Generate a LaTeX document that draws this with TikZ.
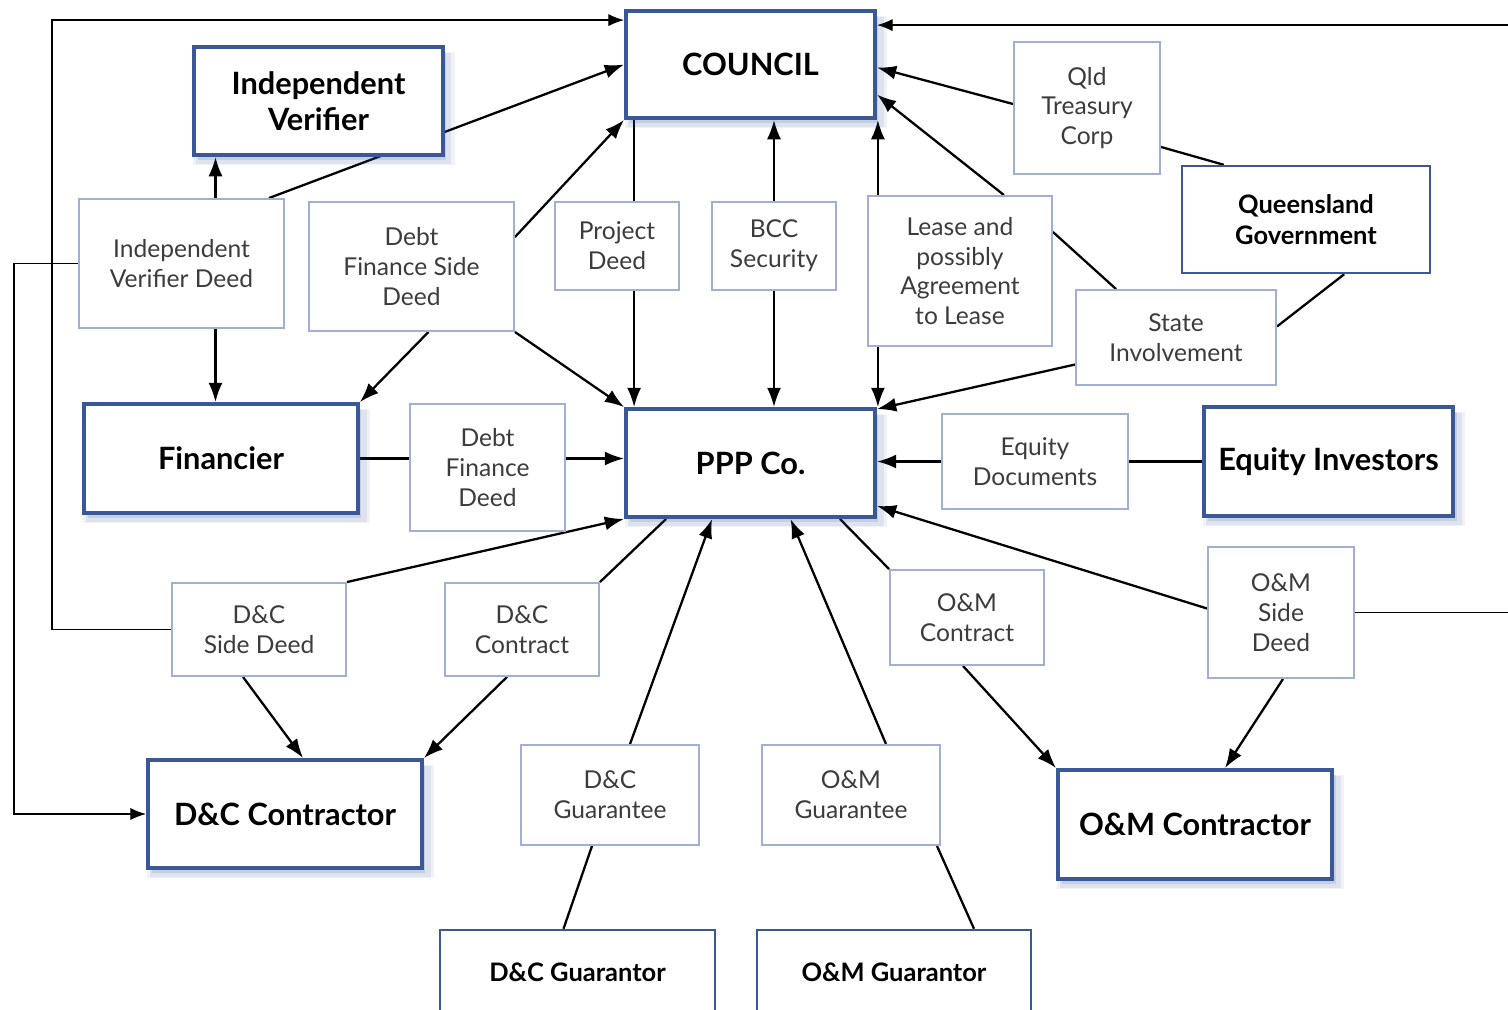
\documentclass[tikz,border=0pt]{standalone}
\usepackage{fontspec}
\setmainfont{Lato}
\usepackage{tikz}
\usetikzlibrary{calc}
\usetikzlibrary{arrows.meta}
\usetikzlibrary{shadows}
\usetikzlibrary{backgrounds}

\definecolor{azulcaja}{RGB}{58,88,152}
\definecolor{azulclaro}{RGB}{160,176,212}
\definecolor{textogris}{RGB}{60,60,60}

\tikzset{
  sombra/.style={
    general shadow={shadow xshift=3pt, shadow yshift=-4pt, shadow scale=1.05, fill=azulcaja, opacity=0.08},
    general shadow={shadow xshift=3pt, shadow yshift=-4pt, shadow scale=1.025, fill=azulcaja, opacity=0.1},
    general shadow={shadow xshift=2pt, shadow yshift=-3pt, fill=azulcaja, opacity=0.14}},
  parte/.style={draw=azulcaja, line width=2.2pt, fill=white, align=center, sombra,
    font=\bfseries\fontsize{17.5}{20.5}\selectfont},
  garante/.style={draw=azulcaja, line width=1.4pt, fill=white, align=center,
    font=\bfseries\fontsize{14.5}{18}\selectfont},
  documento/.style={draw=azulclaro, line width=1.1pt, fill=white, align=center,
    text=textogris, font=\fontsize{14}{17}\selectfont},
  flecha/.style={line width=1.3pt, -{Latex[length=11pt, width=8pt]}},
  linea/.style={line width=1.3pt},
  borde/.style={line width=0.8pt, -{Latex[length=9pt, width=7pt]}},
}

\begin{document}
\begin{tikzpicture}[x=0.02cm, y=-0.02cm]
  \useasboundingbox (0,0) rectangle (1508,1009); % marco de la figura

  % partes
  \node [parte, minimum width=4.98cm, minimum height=2.14cm] (council) at (750.5,64.5) {COUNCIL};
  \node [parte, minimum width=4.98cm, minimum height=2.16cm] (verifier) at (318.5,101) {Independent\\Verifier};
  \node [garante, minimum width=4.96cm, minimum height=2.14cm] (qldgov) at (1306,219.5) {Queensland\\Government};
  \node [parte, minimum width=5.48cm, minimum height=2.18cm] (financier) at (221,458.5) {Financier};
  \node [parte, minimum width=4.98cm, minimum height=2.16cm] (ppp) at (750.5,463) {PPP Co.};
  \node [parte, minimum width=4.98cm, minimum height=2.18cm] (eqinv) at (1328.5,461.5) {Equity Investors};
  \node [parte, minimum width=5.48cm, minimum height=2.16cm] (dccontractor) at (285,814) {D\&C Contractor};
  \node [parte, minimum width=5.48cm, minimum height=2.18cm] (omcontractor) at (1195,824.5) {O\&M Contractor};
  \node [garante, minimum width=5.50cm, minimum height=1.68cm] (dcguarantor) at (577.5,972) {D\&C Guarantor};
  \node [garante, minimum width=5.48cm, minimum height=1.68cm] (omguarantor) at (894,972) {O\&M Guarantor};

  % documentos
  \node [documento, minimum width=4.10cm, minimum height=2.58cm] (ivdeed) at (181.5,263.5) {Independent\\Verifier Deed};
  \node [documento, minimum width=4.10cm, minimum height=2.58cm] (dfsdeed) at (411.5,266.5) {Debt\\Finance Side\\Deed};
  \node [documento, minimum width=2.48cm, minimum height=1.76cm] (projdeed) at (617,246) {Project\\Deed};
  \node [documento, minimum width=2.48cm, minimum height=1.76cm] (bccsec) at (774,246) {BCC\\Security};
  \node [documento, minimum width=3.68cm, minimum height=3.00cm] (lease) at (960,271) {Lease and\\possibly\\Agreement\\to Lease};
  \node [documento, minimum width=2.92cm, minimum height=2.64cm] (qtc) at (1087,108) {Qld\\Treasury\\Corp};
  \node [documento, minimum width=4.00cm, minimum height=1.90cm] (stateinv) at (1176,337.5) {State\\Involvement};
  \node [documento, minimum width=3.10cm, minimum height=2.54cm] (dfdeed) at (487.5,467.5) {Debt\\Finance\\Deed};
  \node [documento, minimum width=3.72cm, minimum height=1.90cm] (eqdocs) at (1035,461.5) {Equity\\Documents};
  \node [documento, minimum width=3.48cm, minimum height=1.86cm] (dcside) at (259,629.5) {D\&C\\Side Deed};
  \node [documento, minimum width=3.08cm, minimum height=1.86cm] (dccontract) at (522,629.5) {D\&C\\Contract};
  \node [documento, minimum width=3.08cm, minimum height=1.90cm] (omcontract) at (967,617.5) {O\&M\\Contract};
  \node [documento, minimum width=2.92cm, minimum height=2.62cm] (omside) at (1281,612.5) {O\&M\\Side\\Deed};
  \node [documento, minimum width=3.56cm, minimum height=2.00cm] (dcguarantee) at (610,795) {D\&C\\Guarantee};
  \node [documento, minimum width=3.56cm, minimum height=2.00cm] (omguarantee) at (851,795) {O\&M\\Guarantee};

  \coordinate (ivx) at ($(ivdeed.north)+(34,0)$); % eje del verificador

  \begin{scope}[on background layer]
    % lineas de los bordes
    \draw [borde] (ivdeed.west) -- ++(-64,0) |- (dccontractor.west);
    \draw [borde] (dcside.west) -- ++(-119,0) |- ($(council.north west)+(0,11)$);
    \draw [borde] (omside.east) -- ++(200,0) |- ($(council.north east)+(0,16)$);
    % verificador
    \draw [flecha] (ivx) -- (ivx |- verifier.south);
    \draw [flecha] (ivx |- ivdeed.south) -- (ivx |- financier.north);
    \draw [flecha] ($(ivdeed.north east)+(-16,0)$) -- (council.west);
    % deuda
    \draw [flecha] ($(dfsdeed.north east)+(0,36)$) -- (council.south west);
    \draw [flecha] ($(dfsdeed.south)+(17,0)$) -- (financier.north east);
    \draw [flecha] (dfsdeed.south east) -- (ppp.north west);
    \draw [linea] (financier.east) -- (financier.east -| dfdeed.west);
    \draw [flecha] (financier.east -| dfdeed.east) -- (financier.east -| ppp.west);
    % council y PPP
    \draw [flecha] ($(council.south west)+(10,0)$) -- ($(ppp.north west)+(10,0)$);
    \draw [flecha] (bccsec.north) -- (bccsec.north |- council.south);
    \draw [flecha] (bccsec.south) -- (bccsec.south |- ppp.north);
    \draw [linea, {Latex[length=11pt, width=8pt]}-{Latex[length=11pt, width=8pt]}] ($(council.south east)+(1,0)$) -- ($(ppp.north east)+(1,0)$);
    \draw [flecha] ($(lease.north east)+(-49,0)$) -- ($(council.east)+(0,30)$);
    \draw [flecha] ($(qtc.west)+(0,-4)$) -- ($(council.east)+(0,3)$);
    % estado
    \draw [linea] ($(qtc.south east)+(0,-28)$) -- ($(qldgov.north west)+(43,0)$);
    \draw [linea] ($(lease.east)+(0,-39)$) -- ($(stateinv.north west)+(41,0)$);
    \draw [linea] ($(qldgov.south east)+(-87,0)$) -- ($(stateinv.east)+(0,-11)$);
    \draw [flecha] ($(stateinv.west)+(0,27)$) -- ($(ppp.north east)+(0,2)$);
    % capital
    \draw [linea] (eqinv.west) -- (eqdocs.east);
    \draw [flecha] (eqdocs.west) -- (eqdocs.west -| ppp.east);
    % D&C
    \draw [flecha] (dcside.north east) -- (ppp.south west);
    \draw [linea] (dccontract.north east) -- ($(ppp.south west)+(42,0)$);
    \draw [flecha] ($(dcside.south)+(-16,0)$) -- ($(dccontractor.north west)+(157,0)$);
    \draw [flecha] ($(dccontract.south)+(-15,0)$) -- (dccontractor.north east);
    \draw [flecha] ($(dcguarantee.north)+(20,0)$) -- ($(ppp.south west)+(88,0)$);
    \draw [linea] ($(dcguarantor.north)+(-14,0)$) -- ($(dcguarantee.south)+(-18,0)$);
    % O&M
    \draw [flecha] ($(omguarantee.north)+(35,0)$) -- ($(ppp.south)+(40,0)$);
    \draw [linea] ($(omguarantor.north)+(80,0)$) -- ($(omguarantee.south)+(86,0)$);
    \draw [linea] (omcontract.north west) -- ($(ppp.south east)+(-37,0)$);
    \draw [flecha] ($(omside.west)+(0,-4)$) -- ($(ppp.south east)+(0,-13)$);
    \draw [flecha] ($(omcontract.south)+(-4,0)$) -- (omcontractor.north west);
    \draw [flecha] ($(omside.south)+(2,0)$) -- ($(omcontractor.north)+(30,0)$);
  \end{scope}
\end{tikzpicture}
\end{document}
